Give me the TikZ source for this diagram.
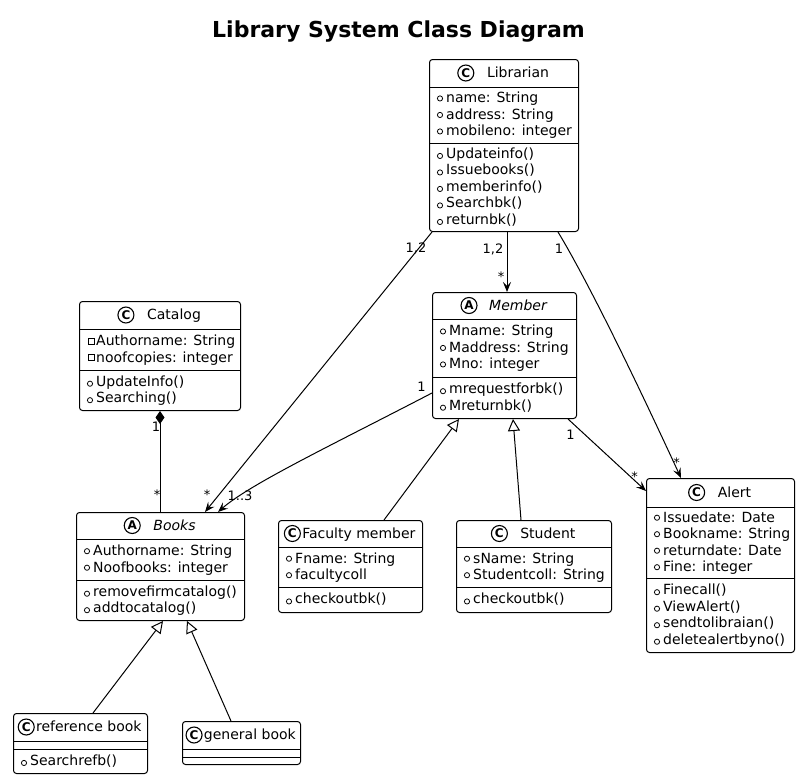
\documentclass[tikz,border=0pt]{standalone}
\usepackage{fontspec}
\setmainfont{DejaVu Sans}
\usetikzlibrary{arrows.meta,calc}
\newcounter{memc}
\newcommand\umlX{0}
\newcommand\rowY{0}
\tikzset{
 classbox/.style={draw, line width=1pt, rounded corners=3pt, fill=white, inner sep=0pt},
 sepline/.style={line width=1pt},
 memtext/.style={font=\fontsize{14}{16}\selectfont, inner sep=0pt, anchor=base west},
 hdrtext/.style={font=\fontsize{14}{16}\selectfont, inner sep=0pt, anchor=base},
 hdricon/.style={draw, circle, line width=1.1pt, minimum size=16pt, inner sep=0pt, fill=white, font=\fontsize{12}{12}\selectfont\bfseries},
 visicon/.style={line width=0.8pt},
 mult/.style={font=\fontsize{13}{13}\selectfont, inner sep=0pt, anchor=base},
 assoc/.style={line width=1pt, -{Stealth[length=10pt, width=8pt, inset=4pt]}},
 gener/.style={line width=1pt, -{Triangle[open, length=12pt, width=12pt, fill=white]}},
 compos/.style={line width=1pt, {Diamond[length=13pt, width=9pt]}-},
}
\newcommand\umlbox[7]{%
 \node[classbox, anchor=north west, minimum width={#4-#2}, minimum height={#5-#3}] (#1) at (#2,#3) {};
 \draw[sepline] (#2,#6) -- (#4,#6);
 \draw[sepline] (#2,#7) -- (#4,#7);
}
\newcommand\umlhead[8]{%
 \pgfmathsetmacro\hc{(#2+#3)/2}%
 \pgfmathsetmacro\hm{(#4+#5)/2}%
 \node[hdrtext] (#1h) at (\hc,\hm+4.8) {\hspace*{16pt}\hspace*{#8pt}#7};
 \path (#1h.base west) ++(8,-4.8) node[hdricon] (#1i) {#6};
}
\newcommand\setrows[4]{\def\umlX{#1}\pgfmathsetmacro\rowY{#2+(#3-#2-#4*16.5)/2+12.5}}
\newcommand\mem[2]{%
 \stepcounter{memc}%
 \if#1a\draw[visicon] (\umlX+11,\rowY-4.3) circle[radius=2.6];\fi
 \if#1m\draw[visicon] (\umlX+11,\rowY-2.3) circle[radius=2.6];\fi
 \if#1q\draw[visicon] (\umlX+9,\rowY-7.3) rectangle (\umlX+15,\rowY-1.3);\fi
 \node[memtext] (mt\arabic{memc}) at (\umlX+17,\rowY) {#2};
 \pgfmathsetmacro\rowY{\rowY+16.5}%
}
\begin{document}
\begin{tikzpicture}[x=1pt,y=-1pt]
\fill[white] (0,0) rectangle (800,779);
\useasboundingbox (0,0) rectangle (800,779);
\node[font=\fontsize{22}{22}\selectfont\bfseries, inner sep=0pt, anchor=base] (title) at (398.5,37) {Library System Class Diagram};

% Librarian
\umlbox{L}{429}{59}{578}{231}{87}{143}
\umlhead{L}{429}{578}{59}{87}{C}{Librarian}{13}
\setrows{429}{87}{143}{3}
\mem{a}{name: String}
\mem{a}{address: String}
\mem{a}{mobileno: integer}
\setrows{429}{143}{231}{5}
\mem{m}{Updateinfo()}
\mem{m}{Issuebooks()}
\mem{m}{memberinfo()}
\mem{m}{Searchbk()}
\mem{m}{returnbk()}

% Catalog
\umlbox{Cat}{79}{301}{240}{410}{329}{370}
\umlhead{Cat}{79}{240}{301}{329}{C}{Catalog}{13}
\setrows{79}{329}{370}{2}
\mem{q}{Authorname: String}
\mem{q}{noofcopies: integer}
\setrows{79}{370}{410}{2}
\mem{m}{UpdateInfo()}
\mem{m}{Searching()}

% Member
\umlbox{M}{432}{292}{576}{418}{319}{377}
\umlhead{M}{432}{576}{292}{319}{A}{\itshape Member}{12}
\setrows{432}{319}{377}{3}
\mem{a}{Mname: String}
\mem{a}{Maddress: String}
\mem{a}{Mno: integer}
\setrows{432}{377}{418}{2}
\mem{m}{mrequestforbk()}
\mem{m}{Mreturnbk()}

% Alert
\umlbox{Al}{646}{478}{794}{652}{507}{578}
\umlhead{Al}{646}{794}{478}{507}{C}{Alert}{13}
\setrows{646}{507}{578}{4}
\mem{a}{Issuedate: Date}
\mem{a}{Bookname: String}
\mem{a}{returndate: Date}
\mem{a}{Fine: integer}
\setrows{646}{578}{652}{4}
\mem{m}{Finecall()}
\mem{m}{ViewAlert()}
\mem{m}{sendtolibraian()}
\mem{m}{deletealertbyno()}

% Books
\umlbox{B}{76}{512}{244}{620}{539}{580}
\umlhead{B}{76}{244}{512}{539}{A}{\itshape Books}{13}
\setrows{76}{539}{580}{2}
\mem{a}{Authorname: String}
\mem{a}{Noofbooks: integer}
\setrows{76}{580}{620}{2}
\mem{m}{removefirmcatalog()}
\mem{m}{addtocatalog()}

% Faculty member
\umlbox{F}{278}{520}{422}{612}{547}{587}
\umlhead{F}{278}{422}{520}{547}{C}{Faculty member}{1.7}
\setrows{278}{547}{587}{2}
\mem{a}{Fname: String}
\mem{a}{facultycoll}
\setrows{278}{587}{612}{1}
\mem{m}{checkoutbk()}

% Student
\umlbox{S}{456}{520}{611}{612}{547}{587}
\umlhead{S}{456}{611}{520}{547}{C}{Student}{12.7}
\setrows{456}{547}{587}{2}
\mem{a}{sName: String}
\mem{a}{Studentcoll: String}
\setrows{456}{587}{612}{1}
\mem{m}{checkoutbk()}

% reference book
\umlbox{R}{13}{713}{147}{773}{741}{749}
\umlhead{R}{13}{147}{713}{741}{C}{reference book}{1.7}
\setrows{13}{749}{773}{1}
\mem{m}{Searchrefb()}

% general book
\umlbox{G}{182}{721}{300}{764}{749}{757}
\umlhead{G}{182}{300}{721}{749}{C}{general book}{1.7}

% connectors
\draw[assoc] ([xshift=3pt]L.south west) -- ([xshift=129pt]B.north west);
\draw[assoc] ([xshift=78pt]L.south west) -- ([xshift=75pt]M.north west);
\draw[assoc] ([xshift=129pt]L.south west) .. controls (578,265) and (615,335) .. ([xshift=35pt]Al.north west);
\draw[assoc] ([yshift=-101pt]M.north west) .. controls (332,445) and (250,484) .. ([xshift=142pt]B.north west);
\draw[assoc] ([xshift=136pt]M.south west) -- ([yshift=-13pt]Al.north west);
\draw[compos] (Cat.south) -- (Cat.south |- B.north);
\draw[gener] ([xshift=106pt]F.north west) -- ([xshift=27pt]M.south west);
\draw[gener] ([xshift=65pt]S.north west) -- ([xshift=81pt]M.south west);
\draw[gener] ([xshift=80pt]R.north west) -- ([xshift=87pt]B.south west);
\draw[gener] ([xshift=49pt]G.north west) -- ([xshift=111pt]B.south west);

% multiplicities
\node[mult] (l1) at (416,252) {1,2};
\node[mult] (l2) at (207,499.5) {*};
\node[mult] (l3) at (493,253) {1,2};
\node[mult] (l4) at (501,281) {*};
\node[mult] (l5) at (559,253) {1};
\node[mult] (l6) at (676.5,467.5) {*};
\node[mult] (l7) at (421.5,391.5) {1};
\node[mult] (l8) at (240,500) {1..3};
\node[mult] (l9) at (156,431) {1};
\node[mult] (l10) at (157,499.5) {*};
\node[mult] (l11) at (570.5,439) {1};
\node[mult] (l12) at (634.5,481) {*};
\end{tikzpicture}
\end{document}
